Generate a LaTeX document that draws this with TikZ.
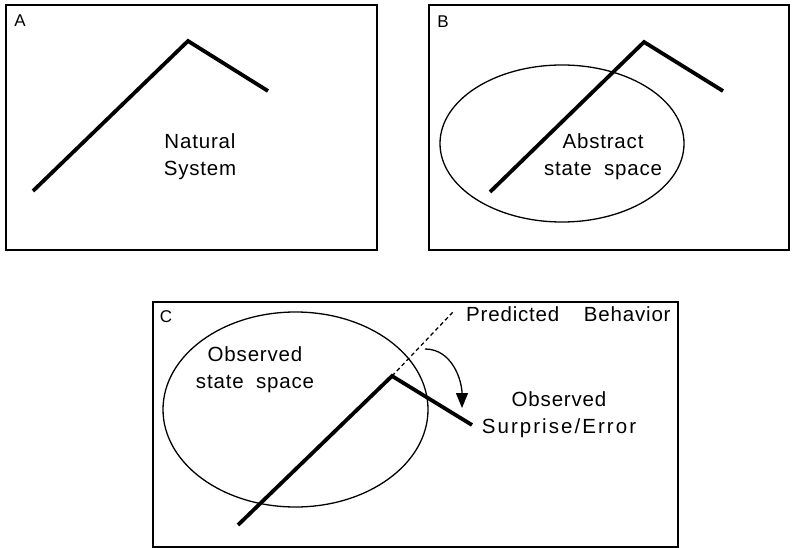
\documentclass[tikz,border=0pt]{standalone}
\usepackage{fontspec}
\setmainfont{Liberation Sans}[LetterSpace=4]
\usetikzlibrary{arrows.meta}

\begin{document}
\begin{tikzpicture}[x=1pt,y=-1pt,
    panel/.style={line width=2.2pt},
    path line/.style={line width=3.8pt, line join=miter, line cap=butt},
    space/.style={line width=1.3pt},
    lbl/.style={font=\fontsize{20.5}{27}\selectfont, align=center, inner sep=0pt},
    tag/.style={font=\fontsize{17}{20}\selectfont, inner sep=0pt}]
  \useasboundingbox (0,0) rectangle (792,548);
  % panel A
  \draw[panel] (6,5) rectangle (377,250);
  \node[tag] (tagA) at (20,21) {A};
  \coordinate (A1) at (33,191);
  \coordinate (A2) at (188,41);
  \coordinate (A3) at (268,91);
  \draw[path line] (A1) -- (A2) -- (A3);
  \node[lbl] (natural) at (200,157) {Natural\\System};
  % panel B
  \draw[panel] (429,5) rectangle (789,250);
  \node[tag] (tagB) at (443,22) {B};
  \draw[space] (562,143.5) ellipse [x radius=122, y radius=78.5];
  \coordinate (B1) at (490,192);
  \coordinate (B2) at (644,42);
  \coordinate (B3) at (723,91);
  \draw[path line] (B1) -- (B2) -- (B3);
  \node[lbl] (abstract) at (603,157) {Abstract\\state\hspace{0.6em}space};
  % panel C
  \draw[panel] (153,302) rectangle (678,547);
  \node[tag] (tagC) at (166,317) {C};
  \draw[space] (295.5,409.5) ellipse [x radius=132.5, y radius=97.5];
  \coordinate (C1) at (238,525);
  \coordinate (C2) at (392,376);
  \coordinate (C3) at (472,425);
  \coordinate (C4) at (453,312);
  \draw[path line] (C1) -- (C2) -- (C3);
  \draw[line width=1.3pt, dashed, dash pattern=on 4pt off 3pt] (C2) -- (C4);
  \node[lbl, anchor=west] (predicted) at (466,314) {Predicted\hspace{1.2em}Behavior};
  \node[lbl] (observed) at (255,370) {Observed\\state\hspace{0.6em}space};
  \node[lbl] (surprise) at (559,415) {Observed\\{\addfontfeature{LetterSpace=10}Surprise/Error}};
  \coordinate (arrS) at (425,349);
  \coordinate (arrE) at (462,408);
  \draw[line width=1.3pt, -{Triangle[width=12pt,length=15pt]}] (arrS) to[out=0, in=90] (arrE);
\end{tikzpicture}
\end{document}
